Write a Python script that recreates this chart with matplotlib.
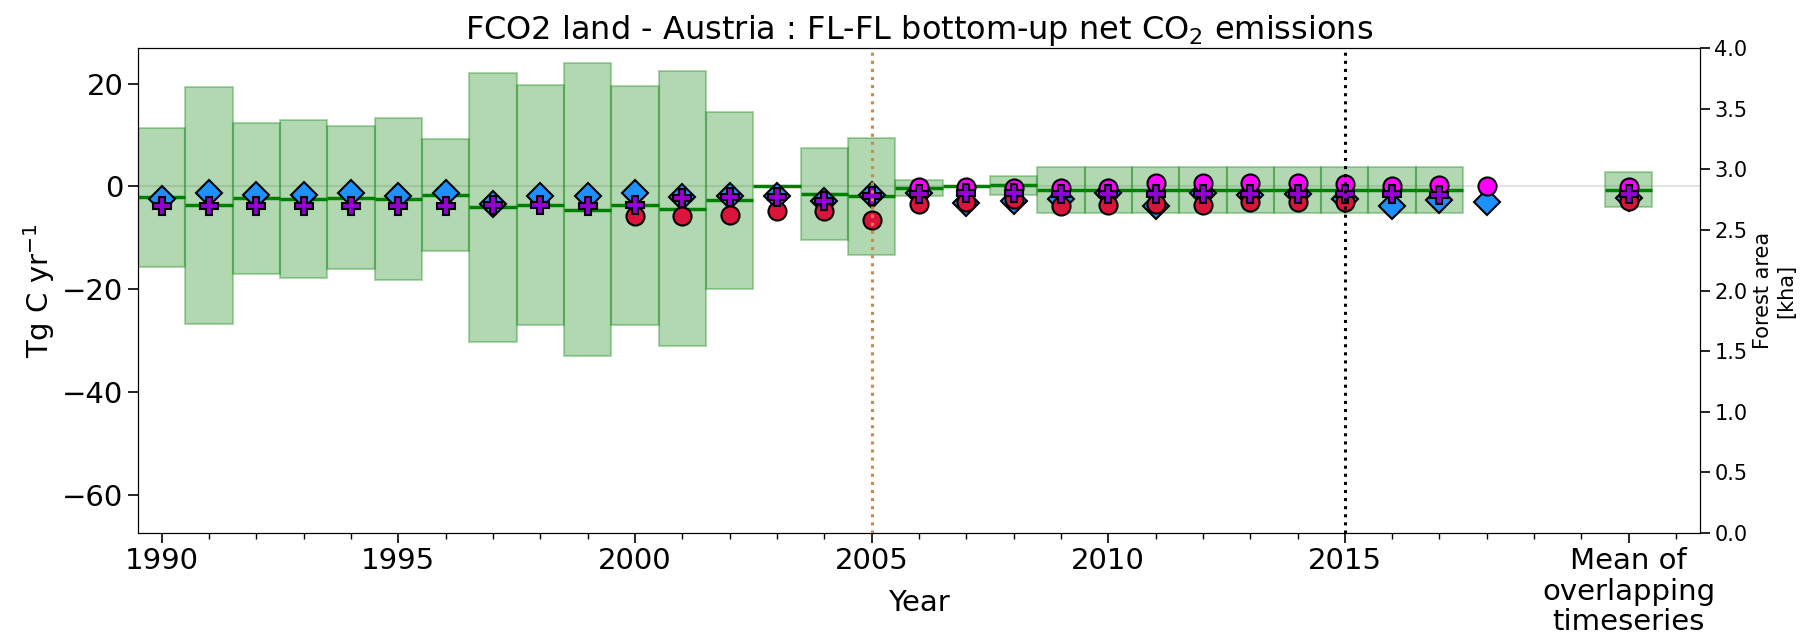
# FCO2 land - Austria : FL-FL bottom-up net CO2 emissions

import numpy as np
import matplotlib.pyplot as plt

years = np.arange(1990, 2018)
nan = np.nan

# spread of the ensemble (box top / bottom) and median line, Tg C / yr
box_hi = [11.4, 19.4, 12.4, 13.0, 11.7, 13.3, 9.2, 22.0, 19.8, 24.0, 19.6, 22.4, 14.4, nan,
          7.4, 9.5, 1.2, nan, 2.0, 3.7, 3.7, 3.7, 3.7, 3.7, 3.7, 3.7, 3.7, 3.7]
box_lo = [-15.6, -26.8, -17.1, -17.8, -16.0, -18.3, -12.6, -30.3, -27.0, -33.0, -27.0, -31.0, -19.9, nan,
          -10.4, -13.3, -1.8, nan, -1.6, -5.2, -5.2, -5.2, -5.2, -5.2, -5.2, -5.2, -5.2, -5.2]
median = [-2.0, -3.6, -2.3, -2.4, -2.2, -2.5, -1.6, -4.1, -3.7, -4.6, -3.6, -4.3, -2.7, 0.0,
          -1.4, -1.8, -0.3, 0.1, 0.3, -0.7, -0.7, -0.7, -0.7, -0.7, -0.7, -0.7, -0.7, -0.7]

# individual timeseries
blue_years = np.arange(1990, 2019)
blue = [-2.5, -1.3, -1.6, -1.7, -1.3, -1.9, -1.2, -3.4, -1.8, -1.9, -1.2, -2.1, -1.8, -1.8, -2.8,
        -1.7, -1.3, -3.2, -2.8, -2.5, -1.2, -3.8, -1.3, -1.6, -1.5, -2.5, -3.9, -2.6, -3.1]
cross_years = np.arange(1990, 2018)
cross = [-3.9, -3.9, -3.9, -3.9, -3.9, -3.9, -3.9, -3.6, -3.7, -3.8, -3.7, -2.2, -2.1, -2.1,
         -2.9, -1.8, -1.4, -1.3, -1.3, -1.5, -1.5, -1.5, -1.5, -1.5, -1.5, -1.5, -1.5, -1.6]
red_years = np.arange(2000, 2016)
red = [-5.8, -5.8, -5.5, -4.7, -4.7, -6.5, -3.4, -3.1, -2.5, -3.9, -3.6, -3.4, -3.6, -3.1, -3.1, -3.1]
mag_years = np.arange(2006, 2019)
mag = [-0.2, -0.2, -0.4, -0.4, -0.3, 0.6, 0.6, 0.6, 0.6, 0.5, 0.1, 0.3, 0.0]

# mean of overlapping timeseries
mean_x = 2021
mean_box = (-4.1, 2.9)
mean_median = -0.6
mean_blue, mean_cross, mean_red, mean_mag = -2.3, -1.5, -2.9, -0.2

fig, ax = plt.subplots(figsize=(18.16, 6.42), dpi=100)
fig.subplots_adjust(left=0.076, right=0.936, bottom=0.170, top=0.925)

ax.axhline(0, color='lightgrey', lw=1.5, alpha=0.6, zorder=1)

hi = np.array(box_hi)
lo = np.array(box_lo)
ok = ~np.isnan(hi)
ax.bar(years[ok], hi[ok] - lo[ok], bottom=lo[ok], width=1.0, color='green', alpha=0.3,
       edgecolor='green', linewidth=1.5, zorder=2)
ax.hlines(median, years - 0.5, years + 0.5, color='green', lw=2.5, zorder=3)

ax.bar([mean_x], [mean_box[1] - mean_box[0]], bottom=[mean_box[0]], width=1.0, color='green',
       alpha=0.3, edgecolor='green', linewidth=1.5, zorder=2)
ax.hlines([mean_median], mean_x - 0.5, mean_x + 0.5, color='green', lw=2.5, zorder=3)

mk = dict(ls='none', mec='black', mew=1.5, ms=13)
ax.plot(blue_years, blue, 'D', mfc='dodgerblue', zorder=4, **mk)
ax.plot(red_years, red, 'o', mfc='crimson', zorder=5, **mk)
ax.plot(mag_years, mag, 'o', mfc='magenta', zorder=6, **mk)
ax.plot(cross_years, cross, 'P', mfc='darkviolet', zorder=7, **mk)
ax.plot([mean_x], [mean_blue], 'D', mfc='dodgerblue', zorder=4, **mk)
ax.plot([mean_x], [mean_red], 'o', mfc='crimson', zorder=5, **mk)
ax.plot([mean_x], [mean_mag], 'o', mfc='magenta', zorder=6, **mk)
ax.plot([mean_x], [mean_cross], 'P', mfc='darkviolet', zorder=7, **mk)

ax.axvline(2005, color='#d8843a', ls=':', lw=2.2, zorder=8)
ax.axvline(2015, color='black', ls=':', lw=2.2, zorder=8)

ax.set_xlim(1989.5, 2022.5)
ax.set_ylim(-67.4, 26.9)
ax.set_xticks([1990, 1995, 2000, 2005, 2010, 2015, mean_x])
ax.set_xticklabels(['1990', '1995', '2000', '2005', '2010', '2015',
                    'Mean of\noverlapping\ntimeseries'], fontsize=21, linespacing=1.1)
ax.set_xticks(np.arange(1990, 2023), minor=True)
ax.tick_params(axis='x', which='major', length=7, width=1.2)
ax.tick_params(axis='x', which='minor', length=4, width=1)
ax.set_yticks([-60, -40, -20, 0, 20])
ax.tick_params(axis='y', labelsize=21, length=7, width=1.2)
ax.set_ylabel(r"Tg C yr$^{-1}$", fontsize=21)
ax.set_xlabel("Year", fontsize=21)
ax.xaxis.set_label_coords(0.5, -0.115)
ax.set_title(r"FCO2 land - Austria : FL-FL bottom-up net CO$_2$ emissions", fontsize=23)

ax2 = ax.twinx()
ax2.set_ylim(0, 4)
ax2.set_yticks(np.arange(0, 4.01, 0.5))
ax2.tick_params(axis='y', labelsize=15, length=7, width=1.2)
ax2.set_ylabel("Forest area\n[kha]", fontsize=15)

plt.savefig("out.png", dpi=100)
